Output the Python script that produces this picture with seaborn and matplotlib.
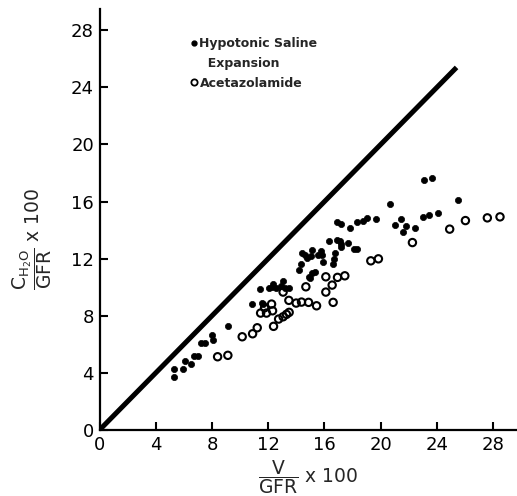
import numpy as np
import pandas as pd
import seaborn as sns
import matplotlib.pyplot as plt
from matplotlib.lines import Line2D

# values (V/GFR x100, CH2O/GFR x100)
saline_x = [5.32, 5.32, 5.96, 6.05, 6.48, 6.72, 7.02, 7.21, 7.50, 7.97, 8.09, 9.11,
            10.84, 11.41, 11.57, 11.63, 12.03, 12.24, 12.31, 12.59, 12.90, 13.02, 13.18, 13.47,
            14.16, 14.32, 14.41, 14.61, 14.73, 14.89, 15.08, 15.12, 15.55, 15.79, 15.86, 15.91,
            14.96, 15.12, 15.32, 16.31, 16.62, 16.69, 16.74, 16.86, 17.14, 17.16, 17.21,
            16.93, 17.21, 17.69, 17.85, 18.09, 18.32, 18.35, 18.75, 19.03, 19.70, 20.65,
            21.00, 21.48, 21.83, 21.59, 22.42, 23.08, 23.63, 23.01, 23.42, 24.06, 25.50]
saline_y = [3.69, 4.29, 4.27, 4.81, 4.64, 5.18, 5.18, 6.11, 6.09, 6.63, 6.28, 7.30,
            8.84, 9.85, 8.90, 8.80, 9.94, 10.03, 10.22, 9.92, 10.10, 10.41, 9.92, 9.96,
            11.24, 11.66, 12.37, 12.25, 12.08, 10.73, 12.17, 12.60, 12.29, 12.53, 12.25, 11.78,
            10.66, 10.97, 11.08, 13.23, 11.66, 12.01, 12.37, 13.34, 13.25, 12.83, 13.02,
            14.58, 14.46, 13.11, 14.16, 12.67, 12.65, 14.58, 14.63, 14.88, 14.77, 15.82,
            14.39, 14.81, 14.30, 13.88, 14.18, 17.49, 17.68, 14.93, 15.05, 15.21, 16.10]

acet_x = [8.40, 9.13, 10.15, 10.89, 11.22, 11.46, 11.74, 11.88, 12.24, 12.31, 12.38,
          12.74, 13.06, 13.30, 13.49, 13.06, 13.47, 13.99, 14.37, 14.87, 14.68, 15.44,
          16.10, 16.55, 16.10, 16.62, 16.93, 17.45, 19.30, 19.84, 22.26, 24.91, 26.03,
          27.59, 28.49]
acet_y = [5.13, 5.23, 6.53, 6.74, 7.16, 8.19, 8.56, 8.19, 8.82, 8.35, 7.26,
          7.77, 7.93, 8.10, 8.24, 9.66, 9.08, 8.89, 8.96, 8.94, 10.03, 8.70,
          10.73, 10.15, 9.66, 8.94, 10.69, 10.80, 11.85, 11.99, 13.13, 14.07, 14.67,
          14.86, 14.93]

identity = [0, 25.4]
ticks = [0, 4, 8, 12, 16, 20, 24, 28]

sns.set_style("ticks")
plt.rcParams['font.family'] = ['DejaVu Sans']
plt.rcParams['mathtext.fontset'] = 'dejavusans'

fig = plt.figure(figsize=(5.17, 4.96), dpi=100)
ax = fig.add_axes([0.1925, 0.1331, 0.8075, 0.849])

ax.plot(identity, identity, color='black', linewidth=3.6, solid_capstyle='butt')

sns.scatterplot(x=saline_x, y=saline_y, ax=ax, color='black', s=20,
                edgecolor='black', linewidth=0.5, marker='o')
sns.scatterplot(x=acet_x, y=acet_y, ax=ax, color='black', s=28,
                edgecolor='black', linewidth=1.5, marker='o')
ax.collections[-1].set_facecolor('none')

ax.set_xlim(0, 29.7)
ax.set_ylim(0, 29.5)
ax.set_xticks(ticks)
ax.set_yticks(ticks)
ax.tick_params(direction='in', length=6, width=1.5, labelsize=13, pad=4, colors='black')
for s in ['top', 'right']:
    ax.spines[s].set_visible(False)
for s in ['left', 'bottom']:
    ax.spines[s].set_linewidth(1.6)
    ax.spines[s].set_color('black')

ax.set_xlabel(r'$\dfrac{\mathrm{V}}{\mathrm{GFR}}$ x 100', fontsize=13.5, labelpad=3)
ax.set_ylabel(r'$\dfrac{\mathrm{C_{H_2O}}}{\mathrm{GFR}}$ x 100', fontsize=13.5)
ax.yaxis.set_label_coords(-0.11, 0.455)

handles = [Line2D([], [], marker='o', color='black', linestyle='none', markersize=3.5),
           Line2D([], [], linestyle='none'),
           Line2D([], [], marker='o', markerfacecolor='none', markeredgecolor='black',
                  markeredgewidth=1.3, linestyle='none', markersize=4.5)]
leg = ax.legend(handles, ['Hypotonic Saline', '  Expansion', 'Acetazolamide'],
                loc='upper left', bbox_to_anchor=(0.19, 0.96), frameon=False,
                handletextpad=0.15, handlelength=0.6, labelspacing=0.55,
                prop={'weight': 'bold', 'size': 9})

fig.savefig('out.png', dpi=100)
